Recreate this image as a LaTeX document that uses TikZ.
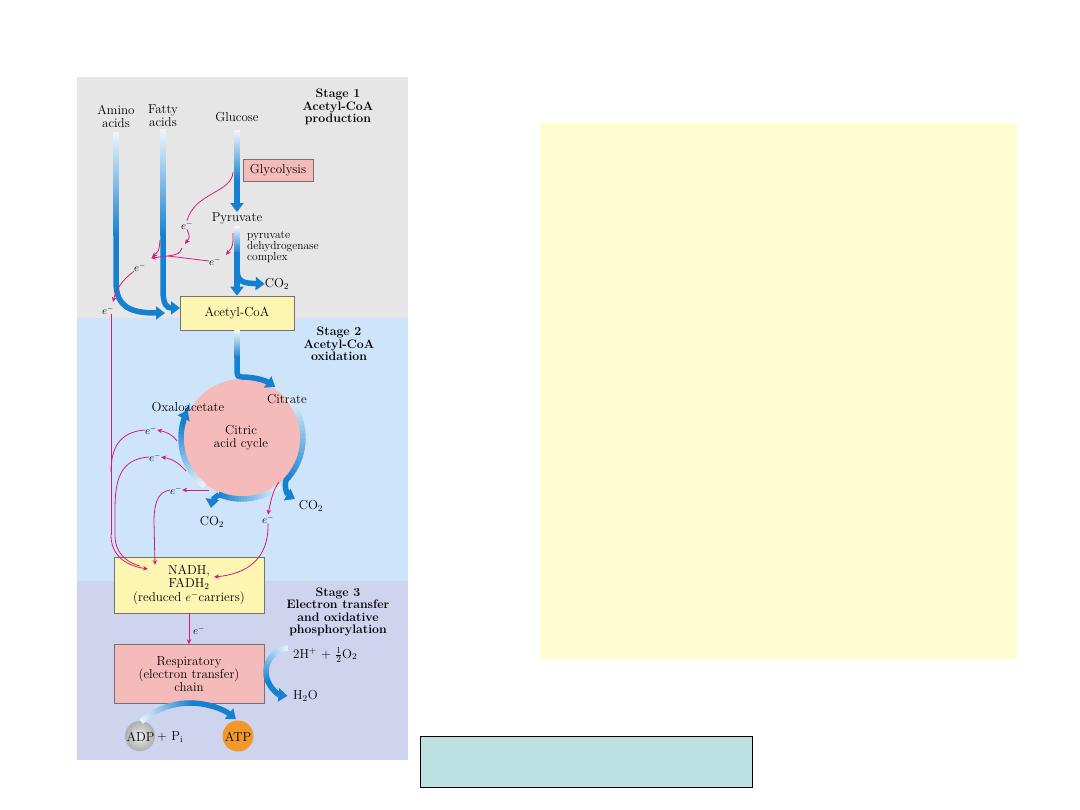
\documentclass[tikz,border=0pt]{standalone}
\usetikzlibrary{arrows.meta,calc}
\definecolor{blueA}{RGB}{20,128,208}
\definecolor{emag}{RGB}{214,28,120}
\definecolor{panelA}{RGB}{230,230,230}
\definecolor{panelB}{RGB}{206,228,250}
\definecolor{panelC}{RGB}{206,212,238}
\definecolor{pinkbox}{RGB}{245,186,186}
\definecolor{yelbox}{RGB}{253,246,178}
\definecolor{bigyel}{RGB}{255,253,208}
\definecolor{cyanbox}{RGB}{189,225,227}
\definecolor{atporange}{RGB}{240,152,40}
\tikzset{
 lbl/.style={font=\fontsize{13}{13}\selectfont, align=center, inner sep=0pt},
 smalltxt/.style={font=\fontsize{11.5}{11}\selectfont, align=left, inner sep=0pt},
 stagetxt/.style={font=\bfseries\fontsize{12.3}{12.4}\selectfont, align=center, inner sep=0pt},
 elab/.style={font=\fontsize{10.5}{10}\selectfont, inner sep=0pt},
 bline/.style={line width=5.5pt, blueA},
 barrow/.style={line width=5.5pt, blueA, -{Triangle[length=9pt,width=13pt]}},
 mline/.style={line width=0.8pt, emag},
 marrow/.style={line width=0.8pt, emag, -{Stealth[length=5pt,width=4.5pt]}},
 pinkrect/.style={draw=black!55, line width=0.6pt, fill=pinkbox, inner sep=0pt, align=center, font=\fontsize{13}{12.7}\selectfont},
 yelrect/.style={draw=black!55, line width=0.6pt, fill=yelbox, inner sep=0pt, align=center, font=\fontsize{13}{13}\selectfont},
}
% vertical gradient line: x, y top (light), y bottom (dark)
\newcommand{\gvline}[3]{\shade[top color=blueA!8!white, bottom color=blueA] ({#1-2.75},#2) rectangle ({#1+2.75},#3);}
% gradient arc: cx, cy, r, a1, a2 (screen angles), t1, t2
\newcommand{\garc}[7]{%
 \foreach \k in {1,...,20}{%
   \pgfmathsetmacro{\ga}{#4+(#5-#4)*(\k-1)/20}%
   \pgfmathsetmacro{\gb}{#4+(#5-#4)*(\k+0.2)/20}%
   \pgfmathsetmacro{\gt}{#6+(#7-#6)*(\k-0.5)/20}%
   \draw[line width=5.5pt, blueA!\gt!white] ($(#1,#2)+(-\ga:#3)$) arc[start angle=-\ga, end angle=-\gb, radius=#3];
 }}
\begin{document}
\begin{tikzpicture}[x=1pt,y=-1pt]
\useasboundingbox (0,0) rectangle (1080,810);
\fill[white] (0,0) rectangle (1080,810);
% panels
\fill[panelA] (77,77) rectangle (408,318);
\fill[panelB] (77,318) rectangle (408,581);
\fill[panelC] (77,581) rectangle (408,760);
% right boxes
\fill[bigyel] (540,123) rectangle (1017,659);
\draw[black, line width=0.9pt, fill=cyanbox] (420,736) rectangle (752,787);

% ---------- Stage 1 ----------
\node[lbl] (amino) at (116,116) {Amino\\acids};
\node[lbl] (fatty) at (163,116) {Fatty\\acids};
\node[lbl] (glucose) at (237,117) {Glucose};
\node[stagetxt] (st1) at (338,107) {Stage 1\\Acetyl-CoA\\production};
\node[pinkrect, minimum width=70pt, minimum height=22pt] (glyc) at (278,170) {Glycolysis};
\node[lbl] (pyr) at (237,218) {Pyruvate};
\node[smalltxt, anchor=west] (pdh) at (247,247) {pyruvate\\dehydrogenase\\complex};
\node[lbl] (co2a) at (277,284) {CO$_2$};
\node[yelrect, minimum width=114pt, minimum height=34pt] (acoa) at (237,313) {Acetyl-CoA};

% blue flows stage 1
\gvline{116}{133}{236}
\draw[barrow] (116,235) -- (116,282) .. controls (116,308) and (132,313) .. (165,313);
\gvline{163}{130}{236}
\draw[barrow] (163,235) -- (163,290) .. controls (163,305) and (167,308) .. (180,308);
\gvline{237}{131}{181}
\draw[barrow] (237,180) -- (pyr.north);
\gvline{237}{227}{253}
\draw[barrow] (237,252) -- (acoa.north);
\draw[barrow] (237,268) .. controls (237,282) and (242,283) .. (co2a.west);

% magenta stage 1
\node[elab] (e1) at (187,225) {$e^-$};
\node[elab] (e2) at (215,261) {$e^-$};
\node[elab] (e3) at (140,267) {$e^-$};
\node[elab] (e4) at (108,310) {$e^-$};
\draw[mline] (233,172) .. controls (232,193) and (195,192) .. (e1.north);
\draw[marrow] (e1.south) .. controls (190,237) .. (185,244);
\draw[marrow] (233,233) .. controls (233,246) .. (226,255);
\coordinate (j1) at (168,256);
\draw[mline] (e2.west) -- (j1);
\draw[mline] (182,248) .. controls (179,254) .. (j1);
\draw[marrow] (j1) -- (151,258);
\draw[marrow] (160,240) .. controls (159,251) .. (152,257);
\draw[marrow] (e3.south west) .. controls (121,281) and (116,290) .. (113,302);

% ---------- Stage 2 ----------
\node[stagetxt] (st2) at (339,344) {Stage 2\\Acetyl-CoA\\oxidation};
\node[circle, fill=pinkbox, minimum size=118pt, inner sep=0pt] (tca) at (242,438) {};
\node[lbl] (tcatxt) at (241,438) {Citric\\acid cycle};
% entry from acetyl-CoA
\gvline{237}{331}{358}
\draw[barrow] (237,357) -- (237,371) .. controls (237,376.5) and (239,377) .. (242,377) arc[start angle=-90, end angle=-57, radius=61];
% right side + CO2
\garc{242}{438}{61}{42}{-44}{8}{100}
\coordinate (co2bstart) at ($(242,438)+(44:61)$);
\node[lbl] (co2b) at (311,506) {CO$_2$};
\draw[barrow] (co2bstart) .. controls (284,489) and (288,495) .. (295,499);
% bottom + CO2
\garc{242}{438}{61}{-52}{-112}{8}{100}
\coordinate (co2cstart) at ($(242,438)+(112:61)$);
\node[lbl] (co2c) at (212,522) {CO$_2$};
\draw[barrow] (co2cstart) .. controls (215,497) and (212,501) .. (211,508);
% left side to oxaloacetate
\garc{242}{438}{61}{232}{166}{8}{100}
\draw[barrow] ($(242,438)+(-166.5:61)$) arc[start angle=-166.5, end angle=-153, radius=61];
\node[lbl] (oxa) at (188,407) {Oxaloacetate};
\node[lbl] (cit) at (287,399) {Citrate};

% magenta stage 2
\node[elab] (e5) at (151,430) {$e^-$};
\node[elab] (e6) at (155,457) {$e^-$};
\node[elab] (e7) at (176,490) {$e^-$};
\node[elab] (e8) at (268,519) {$e^-$};
\draw[marrow] (177,441) .. controls (172,434) and (166,432) .. (e5.east);
\draw[marrow] (186,471) .. controls (178,462) and (172,459) .. (e6.east);
\draw[marrow] (209,490) -- (e7.east);
\draw[marrow] (279,482) .. controls (273,490) and (271,500) .. (e8.north);

\node[yelrect, minimum width=150pt, minimum height=56pt] (nadh) at (189,585) {NADH,\\FADH$_2$\\[1pt](reduced $e^-$carriers)};
% curves to NADH
\draw[mline] (e4.south) ++(3,0) -- (111,535);
\draw[marrow] (111,535) .. controls (111,557) and (128,566) .. (148,569);
\draw[mline] (e5.west) .. controls (118,432) and (111,450) .. (111,472);
\draw[mline] (e6.west) .. controls (120,459) and (115,480) .. (115,510) -- (115,535) .. controls (115,552) and (125,562) .. (140,566);
\draw[marrow] (e7.west) .. controls (157,492) and (154,505) .. (154,522) -- (155,565);
\draw[marrow] (e8.south) .. controls (269,560) and (246,574) .. (214,577);

% ---------- Stage 3 ----------
\node[stagetxt] (st3) at (338,612) {Stage 3\\Electron transfer\\and oxidative\\phosphorylation};
\node[pinkrect, minimum width=150pt, minimum height=59pt] (resp) at (189,674) {Respiratory\\(electron transfer)\\chain};
\draw[marrow] (nadh.south) -- (resp.north);
\node[elab] (e9) at (199,630) {$e^-$};
\node[lbl, anchor=west] (h2) at (293,655) {2H$^+$ + $\frac{1}{2}$O$_2$};
\node[lbl, anchor=west] (h2o) at (293,696) {H$_2$O};
\garc{290}{672}{24}{95}{205}{8}{100}
\draw[barrow] ($(290,672)+(-204:24)$) arc[start angle=-204, end angle=-264, radius=24];

\shade[inner color=black!6, outer color=black!32] (140,736) circle (15);
\node[circle, minimum size=30pt, inner sep=0pt] (adp) at (140,736) {};
\node[lbl] at (140.5,737) {ADP};
\node[lbl, anchor=west] (pi) at (157,737) {+ P$_\mathrm{i}$};
\node[circle, minimum size=31pt, inner sep=0pt, fill=atporange] (atp) at (238,736) {};
\node[lbl] at (238,737) {ATP};
\garc{190}{776}{73}{132}{88}{8}{100}
\draw[barrow] ($(190,776)+(-88.5:73)$) arc[start angle=-88.5, end angle=-51, radius=73];
\end{tikzpicture}
\end{document}
